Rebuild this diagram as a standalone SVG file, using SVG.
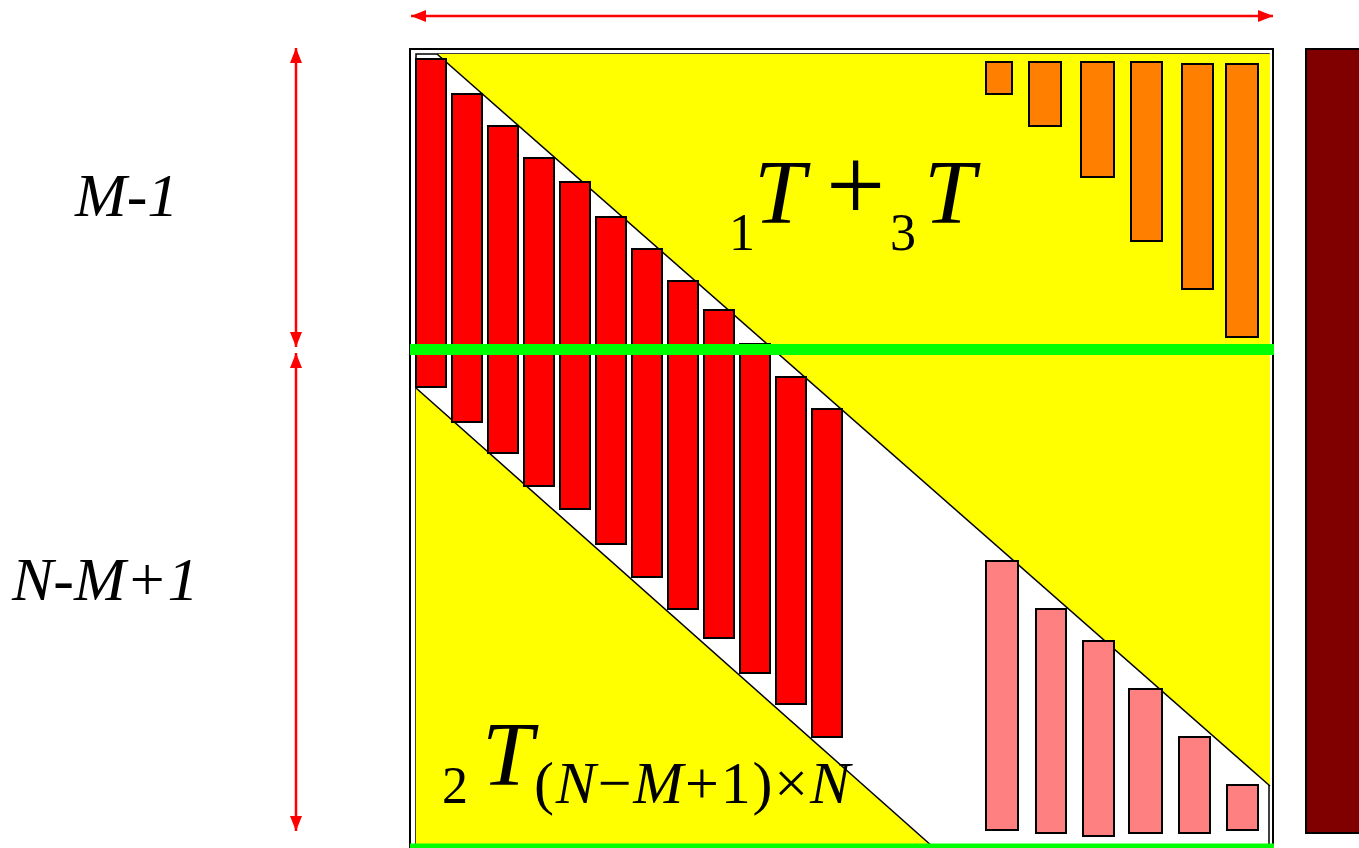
<svg xmlns="http://www.w3.org/2000/svg" width="1359" height="848" viewBox="0 0 1359 848">
<style>
.serif{font-family:"Liberation Serif","Times New Roman",serif;fill:#000}
.it{font-style:italic}
.diag{stroke:#000;stroke-width:1.5;fill:none}
.red{fill:#FF0000;stroke:#000;stroke-width:2}
.org{fill:#FF8000;stroke:#000;stroke-width:2}
.pink{fill:#FF8080;stroke:#000;stroke-width:2}
.tri{fill:#FFFF00;stroke:none}
.arr{stroke:#FF0000;stroke-width:2.5;fill:none;marker-start:url(#ah);marker-end:url(#ah)}
.green{stroke:#00FF00;fill:none}
</style>
<defs>
<marker id="ah" viewBox="0 0 15 12" refX="15" refY="6" markerWidth="15" markerHeight="12" markerUnits="userSpaceOnUse" orient="auto-start-reverse">
<path d="M0,0 L15,6 L0,12 z" fill="#FF0000"/>
</marker>
</defs>
<rect width="1359" height="848" fill="#fff"/>
<g id="frame">
<rect x="410" y="49" width="863" height="810" fill="#fff" stroke="#000" stroke-width="2"/>
<rect x="416" y="54" width="853" height="805" fill="none" stroke="#000" stroke-width="1.5"/>
</g>
<g id="upper-triangle">
<polygon class="tri" points="437,54 1270,54 1270,786"/>
<line class="diag" x1="437" y1="54" x2="1270" y2="786"/>
</g>
<g id="lower-triangle">
<polygon class="tri" points="416,388 933,848 416,848"/>
<line class="diag" x1="416" y1="388" x2="933" y2="847"/>
</g>
<g id="red-bars">
<rect class="red" x="416" y="59" width="30" height="328"/>
<rect class="red" x="452" y="94" width="30" height="328"/>
<rect class="red" x="488" y="126" width="30" height="327"/>
<rect class="red" x="524" y="158" width="30" height="328"/>
<rect class="red" x="560" y="182" width="30" height="327"/>
<rect class="red" x="596" y="217" width="30" height="327"/>
<rect class="red" x="632" y="249" width="30" height="328"/>
<rect class="red" x="668" y="281" width="30" height="328"/>
<rect class="red" x="704" y="310" width="30" height="328"/>
<rect class="red" x="740" y="344" width="30" height="329"/>
<rect class="red" x="776" y="377" width="30" height="327"/>
<rect class="red" x="812" y="409" width="30" height="328"/>
</g>
<g id="orange-bars">
<rect class="org" x="986" y="62" width="26" height="32"/>
<rect class="org" x="1029" y="62" width="32" height="64"/>
<rect class="org" x="1081" y="62" width="33" height="115"/>
<rect class="org" x="1131" y="62" width="31" height="179"/>
<rect class="org" x="1182" y="64" width="31" height="225"/>
<rect class="org" x="1226" y="64" width="32" height="273"/>
</g>
<g id="pink-bars">
<rect class="pink" x="986" y="561" width="32" height="269"/>
<rect class="pink" x="1036" y="609" width="30" height="224"/>
<rect class="pink" x="1083" y="641" width="31" height="195"/>
<rect class="pink" x="1129" y="689" width="33" height="144"/>
<rect class="pink" x="1179" y="737" width="31" height="96"/>
<rect class="pink" x="1227" y="785" width="31" height="45"/>
</g>
<g id="green-lines">
<line class="green" x1="410" y1="349.5" x2="1274" y2="349.5" stroke-width="11"/>
<line class="green" x1="410" y1="846" x2="1274" y2="846" stroke-width="5"/>
</g>
<g id="side-bar">
<rect x="1306" y="49" width="56" height="784" fill="#800000" stroke="#000" stroke-width="2"/>
</g>
<g id="connectors">
<line class="arr" x1="411" y1="16" x2="1273" y2="16"/>
<line class="arr" x1="296" y1="48" x2="296" y2="347"/>
<line class="arr" x1="296" y1="353" x2="296" y2="831"/>
</g>
<g id="labels">
<text class="serif it" x="75" y="216" font-size="62">M-1</text>
<text class="serif it" x="12" y="600" font-size="62">N-M+1</text>
<text class="serif" font-size="52" x="729" y="250">1</text>
<text class="serif it" font-size="92" x="754" y="223">T</text>
<text class="serif" font-size="105" x="826" y="221">+</text>
<text class="serif" font-size="52" x="890" y="250">3</text>
<text class="serif it" font-size="92" x="924" y="223">T</text>
<text class="serif" font-size="52" x="442" y="803">2</text>
<text class="serif it" font-size="92" x="482" y="785">T</text>
<text class="serif" font-size="60" x="534" y="803" textLength="316" lengthAdjust="spacing">(<tspan font-style="italic">N</tspan>−<tspan font-style="italic">M</tspan>+1)×<tspan font-style="italic">N</tspan></text>
</g>
</svg>
